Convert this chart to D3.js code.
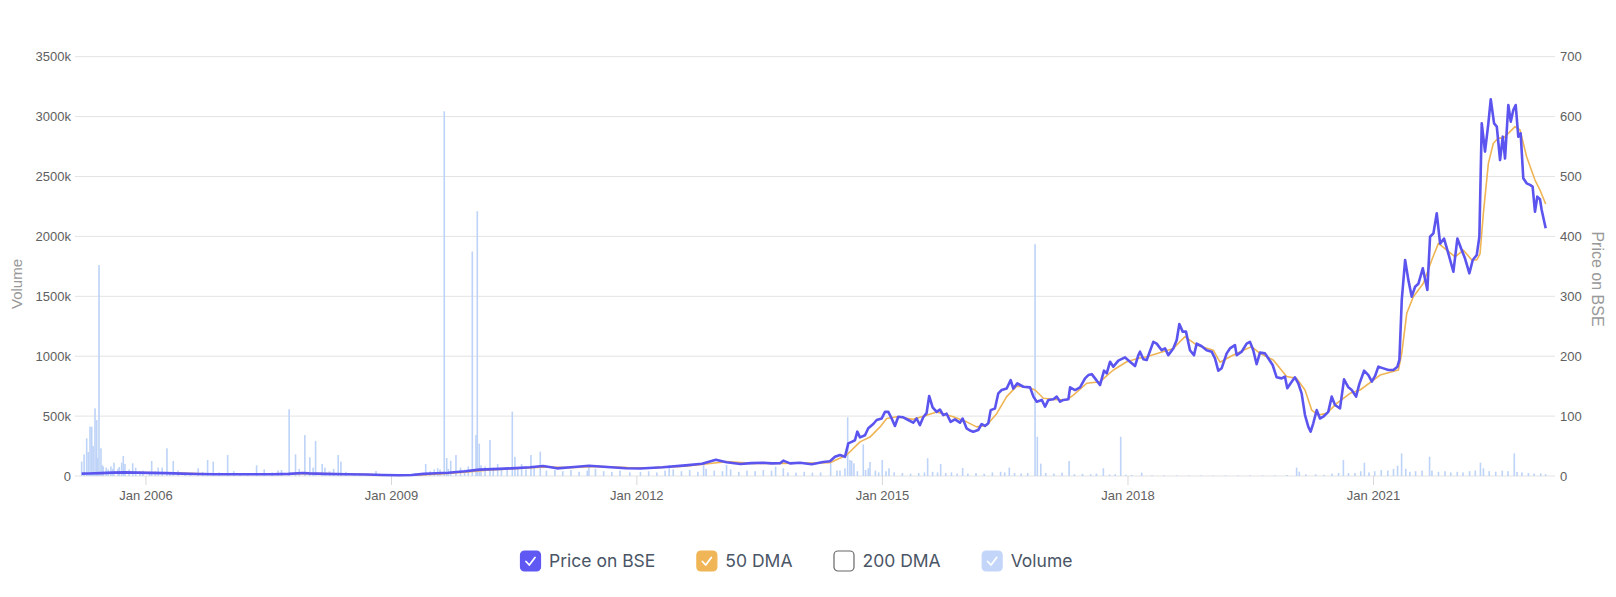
<!DOCTYPE html>
<html><head><meta charset="utf-8">
<script src="https://cdn.jsdelivr.net/npm/d3@7"></script>
<style>body{margin:0;background:#fff;} svg{display:block}</style>
</head><body>
<svg id="chart" width="1616" height="597"></svg>
<script>
// ---- data (x values are fractional years) ----
const priceSeries = [
[2005.22,4.0],[2005.30,4.2],[2005.45,4.8],[2005.60,5.6],[2005.75,6.0],[2005.90,5.6],[2006.05,5.2],[2006.25,4.8],[2006.45,4.0],[2006.65,3.4],[2006.85,3.0],[2007.05,2.8],[2007.30,2.8],[2007.55,3.0],[2007.75,3.6],[2007.92,5.0],[2008.00,4.4],[2008.20,3.6],[2008.45,3.0],[2008.70,2.4],[2008.90,1.6],[2009.10,1.2],[2009.25,1.6],[2009.40,3.5],[2009.55,4.5],[2009.70,5.5],[2009.91,7.8],[2010.08,10.6],[2010.25,11.5],[2010.47,12.8],[2010.70,14.5],[2010.86,16.7],[2011.03,12.8],[2011.20,14.5],[2011.42,17.0],[2011.60,15.5],[2011.87,13.0],[2012.05,12.5],[2012.32,14.5],[2012.60,17.8],[2012.80,20.5],[2012.97,27],[2013.10,23],[2013.27,20],[2013.40,21.5],[2013.55,22],[2013.65,21],
[2013.754,21.2],[2013.794,25.6],[2013.876,21],[2013.998,22],[2014.141,19.5],[2014.283,23.4],[2014.365,24.5],[2014.426,32],[2014.487,35],[2014.548,32],[2014.589,54.5],[2014.630,57],[2014.670,59.7],[2014.699,74],[2014.732,64.5],[2014.793,68],[2014.833,79.6],[2014.894,86.8],[2014.936,93.5],[2014.997,96],[2015.037,107],[2015.078,107],[2015.119,96],[2015.159,83.5],[2015.200,99],[2015.261,98],[2015.322,93.5],[2015.383,89],[2015.424,96],[2015.465,85],[2015.505,98],[2015.546,105],[2015.578,133.5],[2015.620,114.7],[2015.669,107],[2015.709,111],[2015.750,101.6],[2015.791,104],[2015.840,90.4],[2015.893,94.6],[2015.954,89],[2015.987,96],[2016.035,79.6],[2016.076,75.9],[2016.116,74],[2016.177,76.8],[2016.219,86.8],[2016.259,83.5],[2016.300,88],[2016.329,110],[2016.381,112.7],[2016.422,138],[2016.463,143.5],[2016.524,146],[2016.573,160],[2016.605,146],[2016.654,154.6],[2016.727,149],[2016.809,148],[2016.850,132.5],[2016.891,124],[2016.952,127],[2016.992,115.7],[2017.033,127],[2017.094,128],[2017.135,132.5],[2017.176,124],[2017.216,127],[2017.277,128],[2017.298,148],[2017.359,143.5],[2017.420,148],[2017.481,163],[2017.522,168.5],[2017.563,170],[2017.603,163],[2017.664,151.8],[2017.713,175.8],[2017.746,171.5],[2017.787,190.8],[2017.827,182.5],[2017.888,192.5],[2017.970,198],[2018.031,190.8],[2018.092,183.6],[2018.133,201.8],[2018.153,207.5],[2018.194,195],[2018.235,193.7],[2018.316,224],[2018.357,221],[2018.418,210],[2018.459,213],[2018.499,201.8],[2018.560,213],[2018.602,227],[2018.634,253.8],[2018.675,241],[2018.715,241],[2018.764,210],[2018.813,201.8],[2018.846,221],[2018.907,216.6],[2018.968,210],[2019.029,207.5],[2019.070,196.5],[2019.110,175.8],[2019.152,180],[2019.213,204.7],[2019.253,213],[2019.314,218.6],[2019.335,201.8],[2019.396,207.5],[2019.457,221],[2019.497,224],[2019.538,210],[2019.579,186.6],[2019.620,206],[2019.681,204.7],[2019.721,196.5],[2019.775,185.3],[2019.824,164.7],[2019.885,163],[2019.925,166],[2019.954,146.4],[2019.995,154.8],[2020.047,164.7],[2020.088,154.8],[2020.129,138],[2020.170,101.8],[2020.210,82.4],[2020.239,74],[2020.271,88],[2020.313,110],[2020.353,96],[2020.393,99],[2020.454,107],[2020.496,132.5],[2020.536,118.5],[2020.597,113],[2020.646,161.3],[2020.699,148],[2020.740,143.5],[2020.793,132.5],[2020.833,153.7],[2020.891,175.8],[2020.943,168.5],[2020.985,157.4],[2021.025,167],[2021.065,182.5],[2021.127,179.7],[2021.188,177],[2021.249,177],[2021.298,182.5],[2021.322,193.7],[2021.351,293.8],[2021.392,360.6],[2021.432,327],[2021.473,299.4],[2021.514,316],[2021.554,320.8],[2021.608,346.7],[2021.664,310.5],[2021.697,399.5],[2021.738,405],[2021.779,438.5],[2021.820,388],[2021.868,396.4],[2021.921,371.3],[2021.982,341],[2022.031,396.4],[2022.085,377],[2022.125,363],[2022.178,338.4],[2022.219,360.6],[2022.268,369],[2022.300,399.5],[2022.329,588.8],[2022.369,541.4],[2022.410,588.8],[2022.439,628.9],[2022.480,588.8],[2022.513,583.3],[2022.553,527.5],[2022.586,566.5],[2022.614,530],[2022.654,619.4],[2022.684,591.6],[2022.715,611],[2022.744,619.4],[2022.776,566.5],[2022.805,572],[2022.837,497],[2022.878,488.6],[2022.919,486],[2022.951,483],[2022.980,441.2],[2023.008,466.3],[2023.041,462],[2023.062,444],[2023.111,413.5]
];
const dmaSeries = [
[2005.40,4.3],[2005.70,5.2],[2006.0,5.6],[2006.5,4.3],[2007.0,3.0],[2007.5,2.9],[2007.9,4.0],[2008.2,4.0],[2008.6,2.8],[2009.0,1.6],[2009.3,1.5],[2009.6,3.6],[2009.9,6.5],[2010.2,10],[2010.5,12.3],[2010.9,15],[2011.2,14],[2011.5,16],[2011.9,14],[2012.2,13.5],[2012.6,16.5],[2012.9,21],[2013.1,24],[2013.4,21],[2013.754,21],[2014.365,22],[2014.569,35],[2014.732,57],[2014.854,65],[2014.977,82],[2015.058,96],[2015.180,99],[2015.383,94.6],[2015.546,101.6],[2015.669,107],[2015.872,99],[2016.035,90.4],[2016.157,82],[2016.280,84.6],[2016.402,104],[2016.524,132.5],[2016.646,150],[2016.769,149],[2016.870,143.6],[2016.972,129.8],[2017.094,128],[2017.257,127],[2017.338,135],[2017.502,154.8],[2017.664,157.4],[2017.827,177],[2017.991,190.8],[2018.133,196.5],[2018.235,199],[2018.560,213],[2018.703,232.6],[2018.846,218.6],[2019.049,210],[2019.131,190],[2019.253,199],[2019.416,210],[2019.518,216],[2019.620,204.7],[2019.782,193.7],[2019.946,166],[2020.068,163],[2020.170,143.6],[2020.251,110],[2020.333,101.8],[2020.435,104.6],[2020.557,121.3],[2020.720,138],[2020.842,143.6],[2021.004,160],[2021.086,168.5],[2021.310,177],[2021.351,204.8],[2021.412,271.6],[2021.493,299.4],[2021.615,321.7],[2021.718,360.6],[2021.799,388.3],[2021.901,377],[2022.003,366],[2022.105,377],[2022.207,360.6],[2022.268,360.6],[2022.308,371],[2022.349,438.5],[2022.410,522],[2022.471,555.4],[2022.532,564],[2022.593,564],[2022.654,572],[2022.736,583.2],[2022.797,577.6],[2022.878,533],[2022.980,494],[2023.041,477.5],[2023.111,454]
];
// volume in thousands
const volumeSeries = [
[2005.22,120],[2005.25,180],[2005.281,315],[2005.30,200],[2005.322,412],[2005.343,412],[2005.36,250],[2005.383,565],[2005.404,467],[2005.416,150],[2005.432,1761],[2005.456,231],[2005.47,90],[2005.484,80],[2005.52,70],[2005.545,55],[2005.578,80],[2005.60,60],[2005.615,111],[2005.664,60],[2005.68,75],[2005.709,111],[2005.729,167],[2005.749,100],[2005.80,55],[2005.844,106],[2005.88,70],[2005.933,40],[2005.97,45],
[2006.05,35],[2006.076,125],[2006.12,40],[2006.156,70],[2006.205,70],[2006.263,231],[2006.30,30],[2006.340,125],[2006.40,45],[2006.483,30],[2006.55,25],[2006.645,64],[2006.70,35],[2006.760,134],[2006.829,120],[2006.90,30],[2007.005,175],[2007.08,40],[2007.155,25],[2007.25,25],[2007.359,89],[2007.452,55],[2007.55,30],[2007.62,45],[2007.664,50],[2007.757,557],[2007.835,181],[2007.88,60],[2007.949,342],[2008.010,156],[2008.05,70],[2008.080,292],[2008.161,100],[2008.194,70],[2008.25,40],[2008.30,60],[2008.356,175],[2008.389,120],[2008.45,35],[2008.55,25],[2008.621,20],[2008.72,20],[2008.817,42],[2008.90,15],[2009.00,12],[2009.110,15],[2009.20,18],[2009.30,25],[2009.424,100],[2009.48,40],[2009.529,55],[2009.57,65],[2009.599,55],[2009.651,3044],[2009.681,150],[2009.70,60],[2009.730,128],[2009.794,175],[2009.85,70],[2009.90,55],[2009.945,80],[2009.994,1874],[2010.039,342],[2010.055,2210],[2010.079,270],[2010.10,90],[2010.15,80],[2010.210,300],[2010.25,70],[2010.304,100],[2010.35,60],[2010.42,75],[2010.483,537],[2010.515,160],[2010.55,65],[2010.597,100],[2010.65,55],[2010.711,175],[2010.75,70],[2010.825,203],[2010.90,45],[2011.004,50],[2011.10,40],[2011.20,50],[2011.30,35],[2011.40,45],[2011.42,92],[2011.50,60],[2011.60,40],[2011.70,35],[2011.80,45],[2011.92,30],[2012.05,35],[2012.15,40],[2012.25,30],[2012.35,45],[2012.40,92],[2012.45,55],[2012.55,40],[2012.65,50],[2012.75,35],[2012.82,106],[2012.85,60],[2012.95,45],[2013.05,40],[2013.10,92],[2013.15,55],[2013.25,35],[2013.35,45],[2013.45,40],[2013.55,50],[2013.65,45],[2013.70,78],[2013.794,64],[2013.85,30],[2013.95,28],[2014.05,35],[2014.15,28],[2014.25,30],[2014.373,106],[2014.45,45],[2014.487,45],[2014.548,64],[2014.581,490],[2014.609,134],[2014.630,128],[2014.658,106],[2014.70,40],[2014.772,264],[2014.80,50],[2014.833,64],[2014.854,117],[2014.92,45],[2014.96,30],[2015.004,134],[2015.05,40],[2015.086,64],[2015.15,30],[2015.25,25],[2015.35,20],[2015.45,25],[2015.52,30],[2015.559,148],[2015.62,35],[2015.68,30],[2015.718,100],[2015.78,25],[2015.85,30],[2015.92,20],[2015.987,67],[2016.05,20],[2016.15,25],[2016.25,18],[2016.35,30],[2016.45,35],[2016.50,30],[2016.556,70],[2016.62,25],[2016.70,20],[2016.78,25],[2016.870,1935],[2016.898,328],[2016.940,103],[2017.00,25],[2017.10,20],[2017.20,28],[2017.286,125],[2017.35,15],[2017.45,18],[2017.55,15],[2017.62,20],[2017.705,64],[2017.78,12],[2017.85,15],[2017.917,328],[2017.98,10],[2018.05,8],[2018.174,28],[2018.30,6],[2018.45,5],[2018.60,5],[2018.75,4],[2018.90,5],[2019.05,4],[2019.20,5],[2019.35,4],[2019.50,5],[2019.65,5],[2019.80,6],[2019.95,8],[2020.068,70],[2020.10,36],[2020.18,14],[2020.30,14],[2020.40,10],[2020.50,20],[2020.58,25],[2020.638,134],[2020.70,25],[2020.78,25],[2020.85,40],[2020.894,111],[2020.95,30],[2021.02,40],[2021.10,50],[2021.18,45],[2021.25,60],[2021.300,86],[2021.349,189],[2021.40,60],[2021.45,35],[2021.52,40],[2021.60,45],[2021.691,161],[2021.72,45],[2021.80,35],[2021.88,40],[2021.95,30],[2022.03,35],[2022.10,30],[2022.18,40],[2022.25,45],[2022.313,111],[2022.35,64],[2022.42,40],[2022.50,35],[2022.58,45],[2022.65,40],[2022.727,189],[2022.76,34],[2022.82,30],[2022.90,25],[2022.97,20],[2023.05,22],[2023.11,15]
];
const xTickYears = [2006, 2009, 2012, 2015, 2018, 2021];
const volumeTicks = [0, 500, 1000, 1500, 2000, 2500, 3000, 3500];
const priceTicks = [0, 100, 200, 300, 400, 500, 600, 700];
const xDomainYears = [2005.1385, 2023.2248];
const legendItems = ["Price on BSE", "50 DMA", "200 DMA", "Volume"];
const legendChecked = [true, true, false, true];

// ---- drawing ----
const colors = {price:"#5b54ef", dma:"#efb555", vol:"#bdd3f7", grid:"#e3e3e3", tick:"#606060", title:"#999"};
const legendColors = ["#5f58f2", "#f0b556", "#ffffff", "#c3d6fa"];
function yd(y){const Y=Math.floor(y);const s=Date.UTC(Y,0,1),e=Date.UTC(Y+1,0,1);return new Date(s+(y-Y)*(e-s));}

const svg = d3.select("#chart");
const L=75, R=1555, T=56.7, B=476;
const x = d3.scaleUtc().domain(xDomainYears.map(yd)).range([L,R]);
const yV = d3.scaleLinear().domain([0,3500]).range([B,T]);
const yP = d3.scaleLinear().domain([0,700]).range([B,T]);
const font = "'Liberation Sans', Arial, sans-serif";

// grid
svg.append("g").selectAll("line").data(priceTicks).join("line")
  .attr("x1",L).attr("x2",R).attr("y1",d=>yP(d)).attr("y2",d=>yP(d))
  .attr("stroke",colors.grid).attr("stroke-width",1);

// left axis
const gl = svg.append("g").attr("transform",`translate(${L-4},0)`)
  .call(d3.axisLeft(yV).tickValues(volumeTicks).tickSize(0).tickPadding(0).tickFormat(d=>d===0?"0":d+"k"));
gl.select(".domain").remove();
gl.selectAll("text").attr("font-family",font).attr("font-size",13).attr("fill",colors.tick);

// right axis
const gr = svg.append("g").attr("transform",`translate(${R+5},0)`)
  .call(d3.axisRight(yP).tickValues(priceTicks).tickSize(0).tickPadding(0));
gr.select(".domain").remove();
gr.selectAll("text").attr("font-family",font).attr("font-size",13).attr("fill",colors.tick);

// bottom axis
const gb = svg.append("g").attr("transform",`translate(0,${B})`)
  .call(d3.axisBottom(x).tickValues(xTickYears.map(yd)).tickSize(9).tickPadding(6).tickFormat(d=>"Jan "+d.getUTCFullYear()));
gb.select(".domain").remove();
gb.selectAll(".tick line").attr("stroke","#d8d8d8");
gb.selectAll("text").attr("font-family",font).attr("font-size",13).attr("fill",colors.tick);

// axis titles
svg.append("text").attr("transform","translate(22,284) rotate(-90)").attr("text-anchor","middle")
  .attr("font-family",font).attr("font-size",15).attr("fill",colors.title).text("Volume");
svg.append("text").attr("transform","translate(1592,279) rotate(90)").attr("text-anchor","middle")
  .attr("font-family",font).attr("font-size",16).attr("fill",colors.title).text("Price on BSE");

// volume bars
svg.append("g").selectAll("rect").data(volumeSeries).join("rect")
  .attr("x",d=>x(yd(d[0]))-0.8).attr("width",1.6)
  .attr("y",d=>yV(d[1])).attr("height",d=>B-yV(d[1]))
  .attr("fill",colors.vol);

// lines
const line = yScale => d3.line().x(d=>x(yd(d[0]))).y(d=>yScale(d[1]));
svg.append("path").datum(dmaSeries).attr("d",line(yP)).attr("fill","none")
  .attr("stroke",colors.dma).attr("stroke-width",1.6).attr("stroke-linejoin","round");
svg.append("path").datum(priceSeries).attr("d",line(yP)).attr("fill","none")
  .attr("stroke",colors.price).attr("stroke-width",2.6).attr("stroke-linejoin","round");

// legend
const lg = svg.append("g").attr("transform","translate(0,561)");
let lx = 520;
legendItems.forEach((name,i)=>{
  const g = lg.append("g").attr("transform",`translate(${lx},0)`);
  g.append("rect").attr("x",0.5).attr("y",-10).attr("width",20).attr("height",20).attr("rx",4)
    .attr("fill",legendColors[i]).attr("stroke",legendChecked[i]?legendColors[i]:"#666").attr("stroke-width",1.2);
  if(legendChecked[i]) g.append("path").attr("d","M6 0.5 L9.3 4 L15 -3.5").attr("fill","none")
    .attr("stroke","#fff").attr("stroke-width",1.8).attr("stroke-linecap","round").attr("stroke-linejoin","round");
  const t = g.append("text").attr("x",29).attr("y",6).attr("font-family","Inter, 'Noto Sans', sans-serif")
    .attr("font-size",17.5).attr("fill","#4a5566").text(name);
  lx += 29 + t.node().getComputedTextLength() + 41;
});
</script>
</body></html>
